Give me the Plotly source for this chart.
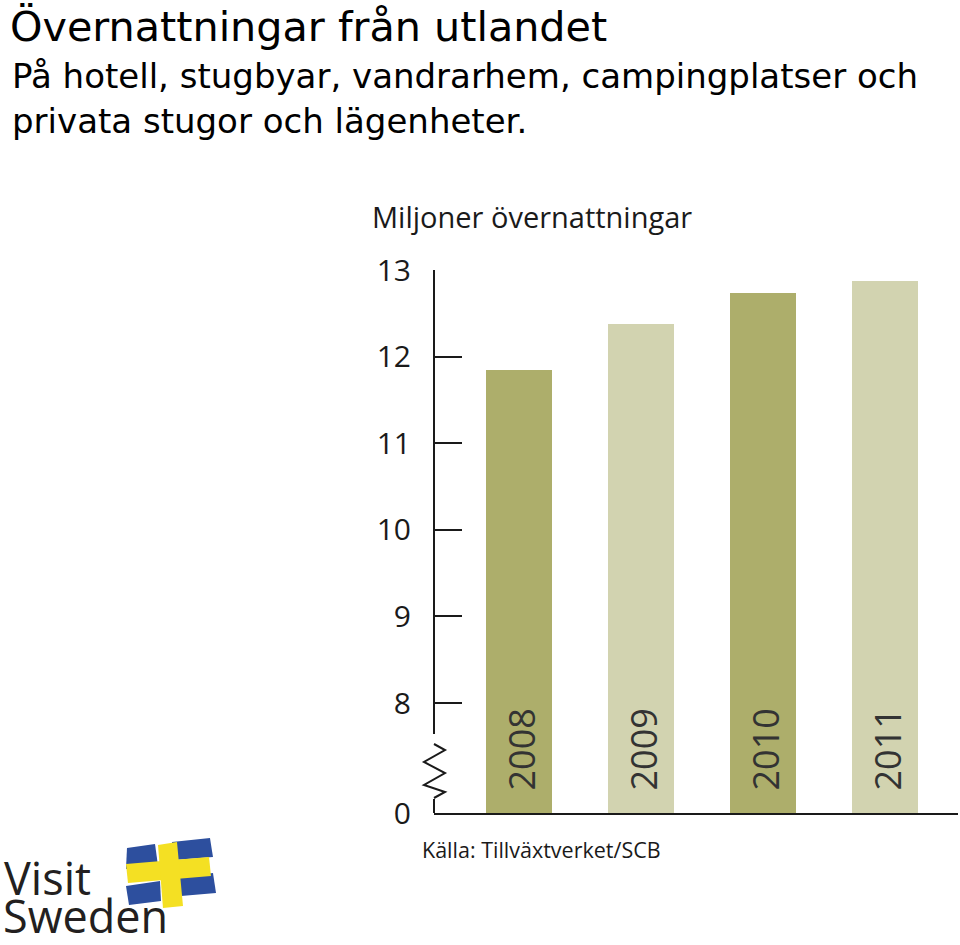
import plotly.graph_objects as go

# data (million overnight stays from abroad)
years = ["2008", "2009", "2010", "2011"]
values = [11.85, 12.38, 12.74, 12.87]
bar_colors = ["#adae6b", "#d2d3b0", "#adae6b", "#d2d3b0"]
tick_values = [8, 9, 10, 11, 12, 13]
tick_labels = ["8", "9", "10", "11", "12", "13"]

W, H = 960, 945
ML, MR, MT, MB = 434, 2, 270, 132
PW, PH = W - ML - MR, H - MT - MB

# broken axis: 0 sits a bit below 8
ZERO_POS = 6.73
FONT = "Open Sans"


def px2x(px):
    return (px - ML) / PW


def px2y(py):
    return (H - MB - py) / PH


def py2data(py):
    return 13 - (py - MT) * (13 - ZERO_POS) / PH


fig = go.Figure()
fig.add_trace(go.Bar(
    x=list(range(len(years))),
    y=[v - ZERO_POS for v in values],
    base=ZERO_POS,
    width=0.545,
    marker=dict(color=bar_colors, line=dict(width=0)),
    customdata=values,
    hovertemplate="%{customdata} milj.<extra></extra>",
))

# year labels inside the bars
for i, yr in enumerate(years):
    fig.add_annotation(x=i + 0.02, y=py2data(749), text=yr, textangle=-90,
                       showarrow=False, font=dict(family=FONT, size=36, color="#333333"))

# y axis line with break (zigzag)
line = dict(color="#1a1a1a", width=2)
fig.add_shape(type="line", xref="paper", yref="y", x0=0, x1=0, y0=13, y1=py2data(734), line=line)
fig.add_shape(type="line", xref="paper", yref="y", x0=0, x1=0, y0=py2data(799), y1=ZERO_POS, line=line)
zig = [(434, 744), (445, 750), (424, 762), (445, 773), (424, 785), (445, 792), (434, 798)]
path = "M " + " L ".join(f"{px2x(a):.4f},{py2data(b):.4f}" for a, b in zig)
fig.add_shape(type="path", xref="paper", yref="y", path=path, line=line)

# titles
TITLE_FONT = "DejaVu Sans"
fig.add_annotation(xref="paper", yref="paper", x=px2x(8), y=px2y(27), xanchor="left", yanchor="middle",
                   text="Övernattningar från utlandet", showarrow=False,
                   font=dict(family=TITLE_FONT, size=41.3, color="#000000"))
fig.add_annotation(xref="paper", yref="paper", x=px2x(10), y=px2y(76), xanchor="left", yanchor="middle",
                   text="På hotell, stugbyar, vandrarhem, campingplatser och", showarrow=False,
                   font=dict(family=TITLE_FONT, size=34, color="#000000"))
fig.add_annotation(xref="paper", yref="paper", x=px2x(10), y=px2y(121), xanchor="left", yanchor="middle",
                   text="privata stugor och lägenheter.", showarrow=False,
                   font=dict(family=TITLE_FONT, size=34, color="#000000"))

fig.add_annotation(xref="paper", yref="paper", x=px2x(370), y=px2y(216), xanchor="left", yanchor="middle",
                   text="Miljoner övernattningar", showarrow=False,
                   font=dict(family=FONT, size=29, color="#1a1a1a"))
fig.add_annotation(xref="paper", yref="paper", x=px2x(420), y=px2y(849), xanchor="left", yanchor="middle",
                   text="Källa: Tillväxtverket/SCB", showarrow=False,
                   font=dict(family=FONT, size=21.5, color="#1a1a1a"))

# Visit Sweden logo
fig.add_annotation(xref="paper", yref="paper", x=px2x(2), y=px2y(877), xanchor="left", yanchor="middle",
                   text="Visit", showarrow=False, font=dict(family=FONT, size=45, color="#231f20"))
fig.add_annotation(xref="paper", yref="paper", x=px2x(1), y=px2y(915), xanchor="left", yanchor="middle",
                   text="Sweden", showarrow=False, font=dict(family=FONT, size=45, color="#231f20"))


def blob(pts, color):
    p = "M " + " L ".join(f"{px2x(a):.4f},{px2y(b):.4f}" for a, b in pts) + " Z"
    fig.add_shape(type="path", xref="paper", yref="paper", path=p,
                  fillcolor=color, line=dict(width=0), layer="above")


blue = "#2d4f9e"
yellow = "#f4e023"
blob([(127, 848), (155, 844), (158, 866), (126, 869)], blue)
blob([(172, 842), (210, 838), (213, 857), (174, 860)], blue)
blob([(126, 886), (160, 881), (161, 901), (129, 905)], blue)
blob([(179, 877), (213, 873), (216, 893), (181, 896)], blue)
blob([(126, 864), (209, 857), (211, 876), (128, 883)], yellow)
blob([(158, 845), (177, 842), (183, 906), (163, 908)], yellow)

fig.update_layout(
    width=W, height=H,
    margin=dict(l=ML, r=MR, t=MT, b=MB),
    paper_bgcolor="white", plot_bgcolor="white",
    showlegend=False,
    bargap=0,
    xaxis=dict(range=[-0.697, 3.598], showticklabels=False, ticks="", showgrid=False,
               zeroline=False, showline=True, linecolor="#1a1a1a", linewidth=2),
    yaxis=dict(range=[ZERO_POS, 13], tickvals=[ZERO_POS] + tick_values, ticktext=["0"] + tick_labels,
               ticks="inside", ticklen=28, tickwidth=2, tickcolor="#1a1a1a",
               ticklabelstandoff=22, showgrid=False, zeroline=False, showline=False,
               tickfont=dict(family=FONT, size=30, color="#1a1a1a")),
)

fig.write_html("out.html", config={"displayModeBar": False},
               post_script="document.body.style.margin='0';")
